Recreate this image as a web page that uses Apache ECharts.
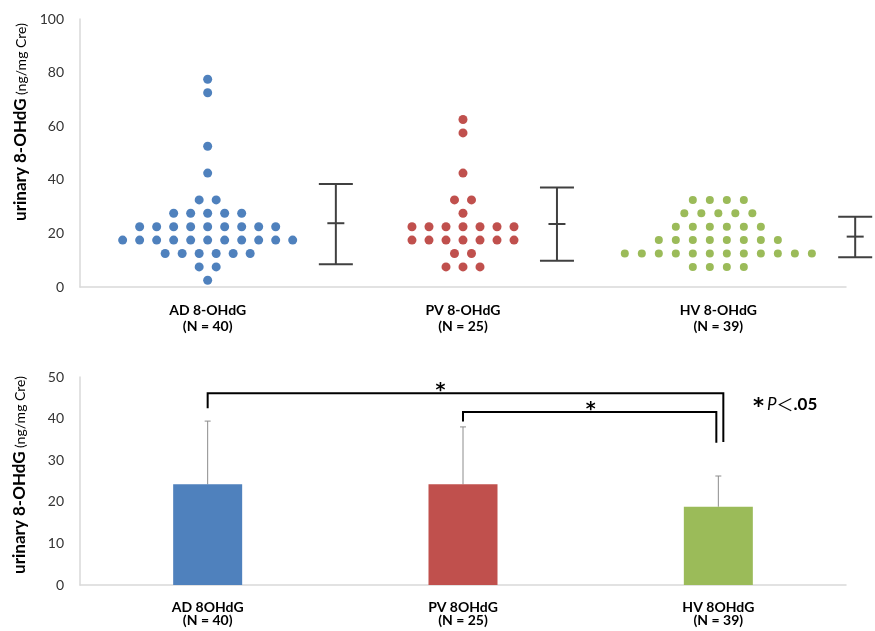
<!DOCTYPE html>
<html><head><meta charset="utf-8">
<script src="https://cdn.jsdelivr.net/npm/echarts@6/dist/echarts.min.js"></script>
<style>html,body{margin:0;padding:0;background:#fff}#c{width:875px;height:631px}</style>
</head><body><div id="c"></div>
<script>
// ---------- data ----------
const topCategories = ['AD 8-OHdG\n(N = 40)', 'PV 8-OHdG\n(N = 25)', 'HV 8-OHdG\n(N = 39)'];
const bottomCategories = ['AD 8OHdG\n(N = 40)', 'PV 8OHdG\n(N = 25)', 'HV 8OHdG\n(N = 39)'];
// individual values, binned (value of bin, number of subjects in bin)
const adBins = [77.5, 72.5, 52.5, 42.5, 32.5, 27.5, 22.5, 17.5, 12.5, 7.5, 2.5];
const adCounts = [1, 1, 1, 1, 2, 5, 9, 11, 6, 2, 1];
const pvBins = [62.5, 57.5, 42.5, 32.5, 27.5, 22.5, 17.5, 12.5, 7.5];
const pvCounts = [1, 1, 1, 2, 1, 7, 7, 2, 3];
const hvBins = [32.5, 27.5, 22.5, 17.5, 12.5, 7.5];
const hvCounts = [4, 5, 6, 8, 12, 4];
// mean +- SD (top chart)
const topMean = [23.8, 23.5, 18.8];
const topLow = [8.5, 9.8, 11.1];
const topHigh = [38.4, 37.1, 26.2];
// bar chart (bottom)
const barMean = [24.2, 24.2, 18.8];
const barErrTop = [39.4, 38.0, 26.2];
// significance brackets
const bracketFrom = [0, 1];
const bracketTo = [2, 2];
const bracketTop = [46.1, 41.6];
const bracketLeftEnd = [42.5, 39.3];
const bracketRightEnd = [34.4, 34.2];
const bracketLabel = ['*', '*'];

// ---------- layout constants ----------
const colors = ['#4F81BD', '#C0504D', '#9BBB59'];
const dotSizes = [9, 9, 8];
const dotStep = 0.0666;             // horizontal spacing of dots (x-units)
const errXOffset = [0.502, 0.368, 0.536]; // x-offset of error bars from group centre
const bracketRightPx = [5, -2];
const starShiftPx = [-25, 1];
const FONT = 'Lato, "Liberation Sans", sans-serif';
const STARFONT = '"DejaVu Sans", sans-serif';

function swarm(center, bins, counts) {
  const out = [];
  bins.forEach((v, i) => {
    const n = counts[i];
    for (let k = 0; k < n; k++) out.push([center + (k - (n - 1) / 2) * dotStep, v]);
  });
  return out;
}
const swarms = [swarm(0, adBins, adCounts), swarm(1, pvBins, pvCounts), swarm(2, hvBins, hvCounts)];

const chart = echarts.init(document.getElementById('c'));
const axisLabelStyle = { color: '#333', fontSize: 14, fontFamily: FONT, margin: 16 };
const titleRich = {
  b: { fontSize: 17, fontWeight: 'bold', fontFamily: FONT, color: '#000' },
  n: { fontSize: 14, fontFamily: FONT, color: '#000' }
};

chart.setOption({
  animation: false,
  grid: [
    { left: 80, right: 29, top: 19, bottom: 344 },
    { left: 80, right: 29, top: 377, bottom: 46 }
  ],
  xAxis: [
    { type: 'category', gridIndex: 0, data: topCategories,
      axisLine: { lineStyle: { color: '#d9d9d9', width: 1.5 } }, axisTick: { show: false },
      axisLabel: { color: '#000', fontSize: 14, fontWeight: 'bold', fontFamily: FONT, lineHeight: 16, margin: 15 } },
    { type: 'value', gridIndex: 0, min: -0.5, max: 2.5, show: false },
    { type: 'category', gridIndex: 1, data: bottomCategories,
      axisLine: { lineStyle: { color: '#d9d9d9', width: 1.5 } }, axisTick: { show: false },
      axisLabel: { color: '#000', fontSize: 14, fontWeight: 'bold', fontFamily: FONT, lineHeight: 13, margin: 16 } }
  ],
  yAxis: [
    { type: 'value', gridIndex: 0, min: 0, max: 100, interval: 20,
      axisLine: { show: true, onZero: false, lineStyle: { color: '#d9d9d9', width: 1.5 } }, axisTick: { show: false },
      splitLine: { show: false }, axisLabel: axisLabelStyle },
    { type: 'value', gridIndex: 1, min: 0, max: 50, interval: 10,
      axisLine: { show: true, onZero: false, lineStyle: { color: '#d9d9d9', width: 1.5 } }, axisTick: { show: false },
      splitLine: { show: false }, axisLabel: axisLabelStyle }
  ],
  series: [
    ...swarms.map((d, i) => ({
      type: 'scatter', xAxisIndex: 1, yAxisIndex: 0, data: d,
      symbolSize: dotSizes[i], itemStyle: { color: colors[i], opacity: 1 }
    })),
    {
      type: 'custom', xAxisIndex: 1, yAxisIndex: 0, clip: false,
      data: topMean.map((m, i) => [i + errXOffset[i], topLow[i], m, topHigh[i]]),
      renderItem: (params, api) => {
        const x = api.value(0);
        const lo = api.coord([x, api.value(1)]);
        const mid = api.coord([x, api.value(2)]);
        const hi = api.coord([x, api.value(3)]);
        const st = { stroke: '#404040', lineWidth: 2 };
        return { type: 'group', children: [
          { type: 'line', shape: { x1: hi[0], y1: hi[1], x2: lo[0], y2: lo[1] }, style: st },
          { type: 'line', shape: { x1: hi[0] - 17, y1: hi[1], x2: hi[0] + 17, y2: hi[1] }, style: st },
          { type: 'line', shape: { x1: lo[0] - 17, y1: lo[1], x2: lo[0] + 17, y2: lo[1] }, style: st },
          { type: 'line', shape: { x1: mid[0] - 8.5, y1: mid[1], x2: mid[0] + 8.5, y2: mid[1] }, style: st }
        ]};
      }
    },
    {
      type: 'bar', xAxisIndex: 2, yAxisIndex: 1, barWidth: 69,
      data: barMean.map((v, i) => ({ value: v, itemStyle: { color: colors[i] } }))
    },
    {
      type: 'custom', xAxisIndex: 2, yAxisIndex: 1, clip: false,
      data: barMean.map((m, i) => [i, m, barErrTop[i]]),
      renderItem: (params, api) => {
        const b = api.coord([api.value(0), api.value(1)]);
        const t = api.coord([api.value(0), api.value(2)]);
        const st = { stroke: '#8c8c8c', lineWidth: 1 };
        return { type: 'group', children: [
          { type: 'line', shape: { x1: b[0], y1: b[1], x2: t[0], y2: t[1] }, style: st },
          { type: 'line', shape: { x1: t[0] - 3, y1: t[1], x2: t[0] + 3, y2: t[1] }, style: st }
        ]};
      }
    },
    {
      type: 'custom', xAxisIndex: 2, yAxisIndex: 1, clip: false,
      data: bracketFrom.map((f, i) => [f, bracketTo[i], bracketTop[i], bracketLeftEnd[i], bracketRightEnd[i]]),
      renderItem: (params, api) => {
        const i = params.dataIndex;
        const f = api.value(0), t = api.value(1);
        const lt = api.coord([f, api.value(2)]);
        const lb = api.coord([f, api.value(3)]);
        const rt = api.coord([t, api.value(2)]);
        const rb = api.coord([t, api.value(4)]);
        const rx = rt[0] + bracketRightPx[i];
        const midX = (lt[0] + rx) / 2 + starShiftPx[i];
        return { type: 'group', children: [
          { type: 'polyline', shape: { points: [[lb[0], lb[1]], [lt[0], lt[1]], [rx, rt[1]], [rx, rb[1]]] },
            style: { stroke: '#000', lineWidth: 2, fill: null } },
          { type: 'text', x: midX, y: lt[1] - 2,
            style: { text: bracketLabel[i], fontSize: 19, fontWeight: 'bold', fontFamily: STARFONT,
              fill: '#000', align: 'center', verticalAlign: 'middle' } }
        ]};
      }
    }
  ],
  graphic: [
    { type: 'text', x: 21, y: 122, rotation: Math.PI / 2,
      style: { text: '{b|urinary 8-OHdG} {n|(ng/mg Cre)}', align: 'center', verticalAlign: 'middle', rich: titleRich } },
    { type: 'text', x: 20, y: 475, rotation: Math.PI / 2,
      style: { text: '{b|urinary 8-OHdG} {n|(ng/mg Cre)}', align: 'center', verticalAlign: 'middle', rich: titleRich } },
    { type: 'text', x: 753, y: 405,
      style: { text: '{s|*}{p|P}{l|＜}{n|.05}', verticalAlign: 'middle',
        rich: { s: { fontSize: 21, fontWeight: 'bold', fontFamily: STARFONT, color: '#000', padding: [6, 3, 0, 0] },
                p: { fontSize: 17, fontStyle: 'italic', fontFamily: FONT, color: '#000' },
                l: { fontSize: 17, fontFamily: '"Noto Sans CJK JP", sans-serif', color: '#000' },
                n: { fontSize: 17, fontWeight: 'bold', fontFamily: FONT, color: '#000' } } } }
  ]
});
</script></body></html>
